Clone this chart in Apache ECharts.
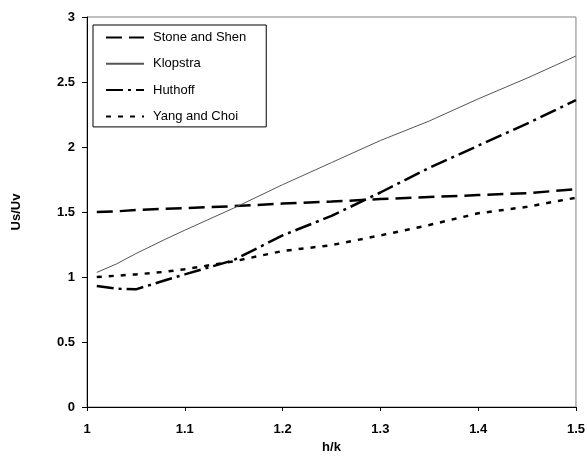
<!DOCTYPE html>
<html>
<head>
<meta charset="utf-8">
<script src="https://cdn.jsdelivr.net/npm/echarts@6/dist/echarts.min.js"></script>
<style>
html,body{margin:0;padding:0;background:#fff;}
#chart{width:588px;height:459px;}
</style>
</head>
<body>
<div id="chart"></div>
<script>
const hk = [1.01, 1.03, 1.05, 1.08, 1.1, 1.15, 1.2, 1.25, 1.3, 1.35, 1.4, 1.45, 1.5];
const stoneShen = [1.5, 1.505, 1.515, 1.525, 1.53, 1.545, 1.565, 1.58, 1.6, 1.615, 1.63, 1.645, 1.675];
const klopstra = [1.035, 1.1, 1.18, 1.29, 1.36, 1.53, 1.71, 1.88, 2.05, 2.2, 2.37, 2.53, 2.7];
const huthoff = [0.93, 0.91, 0.905, 0.975, 1.02, 1.13, 1.32, 1.47, 1.65, 1.84, 2.01, 2.18, 2.36];
const yangChoi = [1.0, 1.01, 1.02, 1.04, 1.06, 1.12, 1.2, 1.245, 1.32, 1.4, 1.49, 1.54, 1.61];
const seriesNames = ['Stone and Shen', 'Klopstra', 'Huthoff', 'Yang and Choi'];

function pairs(ys) { return hk.map((x, i) => [x, ys[i]]); }

const font = 'Arial, "Liberation Sans", sans-serif';
const chart = echarts.init(document.getElementById('chart'), null, {renderer: 'canvas'});
chart.setOption({
  animation: false,
  backgroundColor: '#fff',
  grid: {left: 87, right: 8, top: 17, bottom: 52, show: true, borderColor: '#808080', borderWidth: 1},
  legend: {
    orient: 'vertical', left: 93, top: 25,
    padding: [6, 20, 4, 12],
    itemWidth: 38, itemHeight: 14, itemGap: 13.3,
    borderColor: '#000', borderWidth: 1, backgroundColor: '#fff',
    itemStyle: {opacity: 0, color: 'transparent', borderWidth: 0},
    textStyle: {fontFamily: font, fontSize: 13, color: '#000', padding: [0, 0, 0, 4]},
    data: seriesNames
  },
  xAxis: {
    type: 'value', min: 1, max: 1.5, interval: 0.1,
    name: 'h/k', nameLocation: 'middle', nameGap: 30,
    nameTextStyle: {fontFamily: font, fontSize: 13, fontWeight: 'bold', color: '#000'},
    axisLine: {show: true, lineStyle: {color: '#000', width: 1}},
    axisTick: {show: true, length: 4, lineStyle: {color: '#000'}},
    axisLabel: {fontFamily: font, fontSize: 13, fontWeight: 'bold', color: '#000', margin: 16},
    splitLine: {show: false}
  },
  yAxis: {
    type: 'value', min: 0, max: 3, interval: 0.5,
    name: 'Us/Uv', nameLocation: 'middle', nameGap: 64, nameRotate: 90,
    nameTextStyle: {fontFamily: font, fontSize: 13, fontWeight: 'bold', color: '#000'},
    axisLine: {show: true, lineStyle: {color: '#000', width: 1}},
    axisTick: {show: true, length: 5, lineStyle: {color: '#000'}},
    axisLabel: {fontFamily: font, fontSize: 13, fontWeight: 'bold', color: '#000', margin: 12},
    splitLine: {show: false}
  },
  series: [
    {name: seriesNames[0], type: 'line', symbol: 'none', data: pairs(stoneShen),
     lineStyle: {color: '#000', width: 2.5, type: [16, 7]}, itemStyle: {color: '#000'}},
    {name: seriesNames[1], type: 'line', symbol: 'none', data: pairs(klopstra),
     lineStyle: {color: '#555', width: 1, type: 'solid'}, itemStyle: {color: '#555'}},
    {name: seriesNames[2], type: 'line', symbol: 'none', data: pairs(huthoff),
     lineStyle: {color: '#000', width: 2.5, type: [17, 5, 3, 5]}, itemStyle: {color: '#000'}},
    {name: seriesNames[3], type: 'line', symbol: 'none', data: pairs(yangChoi),
     lineStyle: {color: '#000', width: 2.5, type: [5, 7]}, itemStyle: {color: '#000'}}
  ]
});
</script>
</body>
</html>
